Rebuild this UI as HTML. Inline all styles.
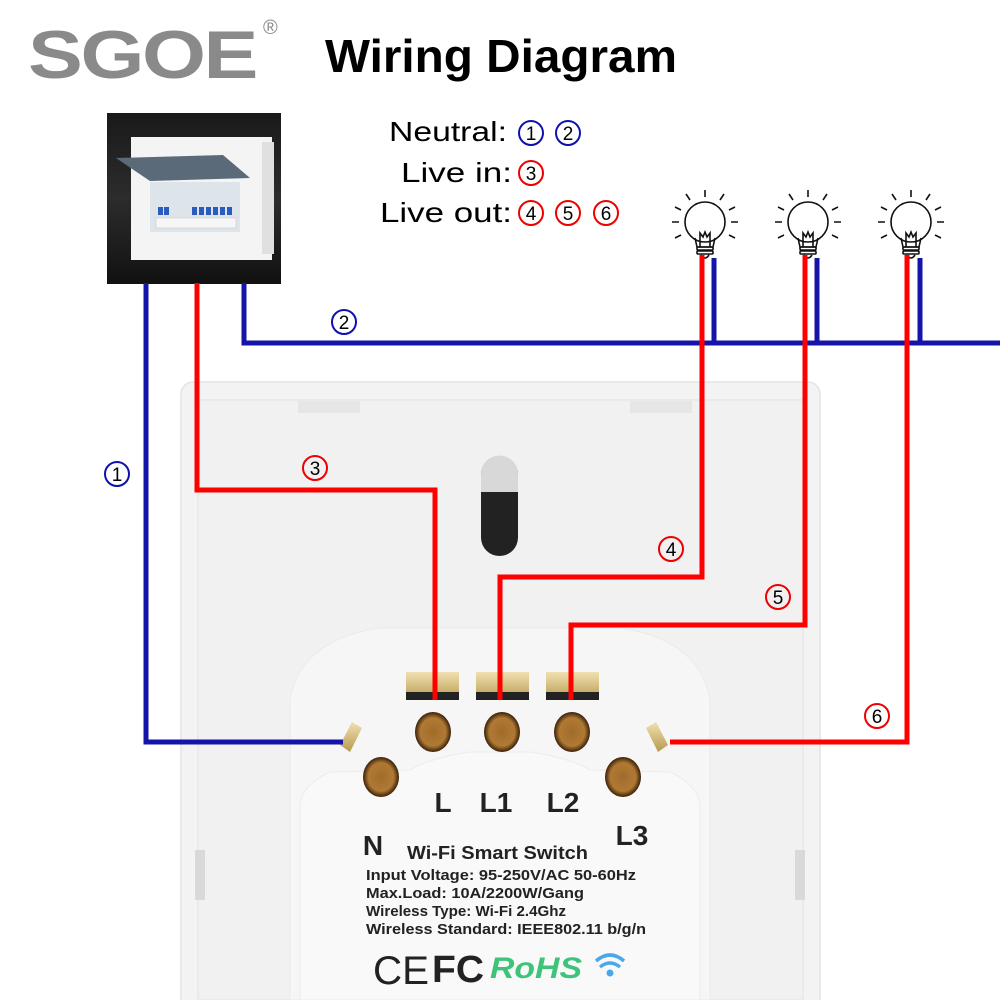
<!DOCTYPE html>
<html><head><meta charset="utf-8"><style>
html,body{margin:0;padding:0;background:#fff;}
svg{display:block;}
text{font-family:"Liberation Sans",Arial,sans-serif;}
</style></head><body>
<svg width="1000" height="1000" viewBox="0 0 1000 1000" xmlns="http://www.w3.org/2000/svg">
<defs>
<radialGradient id="hole" cx="50%" cy="50%" r="50%">
<stop offset="0" stop-color="#a06a2a"/><stop offset="0.7" stop-color="#b07a35"/><stop offset="1" stop-color="#3a2008"/>
</radialGradient>
<linearGradient id="scr" x1="0" y1="0" x2="0" y2="1"><stop offset="0" stop-color="#f0e0b0"/><stop offset="1" stop-color="#b89a50"/></linearGradient>
<linearGradient id="bx" x1="0" y1="0" x2="0" y2="1"><stop offset="0" stop-color="#1a1a1a"/><stop offset="0.5" stop-color="#2c2c2c"/><stop offset="1" stop-color="#111"/></linearGradient>
</defs>
<!-- header -->
<text x="28" y="78" font-size="68" font-weight="bold" fill="#8a8a8a" letter-spacing="-2" textLength="228" lengthAdjust="spacingAndGlyphs">SGOE</text>
<text x="263" y="34" font-size="20" fill="#8a8a8a">®</text>
<text x="325" y="72" font-size="46" font-weight="bold" fill="#000" textLength="352" lengthAdjust="spacingAndGlyphs">Wiring Diagram</text>
<!-- legend -->
<g font-size="28" fill="#000">
<text x="389" y="141" textLength="118" lengthAdjust="spacingAndGlyphs">Neutral:</text>
<text x="401" y="182" textLength="111" lengthAdjust="spacingAndGlyphs">Live in:</text>
<text x="380" y="222" textLength="132" lengthAdjust="spacingAndGlyphs">Live out:</text>
</g>
<g font-size="19" text-anchor="middle" fill="#000">
<circle cx="531" cy="133" r="12" fill="none" stroke="#1010b0" stroke-width="2"/><text x="531" y="140">1</text>
<circle cx="568" cy="133" r="12" fill="none" stroke="#1010b0" stroke-width="2"/><text x="568" y="140">2</text>
<circle cx="531" cy="173" r="12" fill="none" stroke="#e00" stroke-width="2"/><text x="531" y="180">3</text>
<circle cx="531" cy="213" r="12" fill="none" stroke="#e00" stroke-width="2"/><text x="531" y="220">4</text>
<circle cx="568" cy="213" r="12" fill="none" stroke="#e00" stroke-width="2"/><text x="568" y="220">5</text>
<circle cx="606" cy="213" r="12" fill="none" stroke="#e00" stroke-width="2"/><text x="606" y="220">6</text>
</g>
<!-- breaker box -->
<rect x="107" y="113" width="174" height="171" fill="url(#bx)"/>
<rect x="131" y="137" width="141" height="123" fill="#f4f4f4"/>
<rect x="262" y="142" width="12" height="112" fill="#e0e0e0"/>
<polygon points="116,158 223,155 250,178 150,181" fill="#5a6a78"/>
<rect x="150" y="182" width="90" height="50" fill="#dde4ea"/>
<g fill="#2a5bbf">
<rect x="158" y="207" width="5" height="8"/><rect x="164" y="207" width="5" height="8"/>
<rect x="192" y="207" width="5" height="8"/><rect x="199" y="207" width="5" height="8"/><rect x="206" y="207" width="5" height="8"/><rect x="213" y="207" width="5" height="8"/><rect x="220" y="207" width="5" height="8"/><rect x="227" y="207" width="5" height="8"/>
</g>
<rect x="156" y="218" width="80" height="10" fill="#f6f6f6" stroke="#ccc" stroke-width="0.6"/>
<!-- bulbs -->
<g fill="none" stroke="#111" stroke-width="1.6">
<g id="b1" transform="translate(705,0)">
<circle cx="0" cy="222" r="20"/>
<path d="M-10,238 L-8,247 L8,247 L10,238"/>
<path d="M-5,247 L-5,233 L-2,237 L0,232 L2,237 L5,233 L5,247"/>
<rect x="-8" y="247" width="16" height="3" rx="1"/><rect x="-8" y="251" width="16" height="3" rx="1"/>
<path d="M-4,255 Q0,261 4,255"/>
<path d="M0,190 L0,197 M-19,194 L-15,200 M19,194 L15,200 M-30,207 L-24,210 M30,207 L24,210 M-33,222 L-26,222 M33,222 L26,222 M-30,238 L-24,235 M30,238 L24,235"/>
</g>
<use href="#b1" transform="translate(103,0)"/>
<use href="#b1" transform="translate(206,0)"/>
</g>
<!-- switch plate -->
<rect x="181" y="382" width="639" height="640" rx="12" fill="#f3f3f3" stroke="#e4e4e4" stroke-width="1.5"/>
<rect x="198" y="400" width="605" height="600" fill="#f1f1f1" stroke="#e2e2e2" stroke-width="1"/>
<rect x="298" y="401" width="62" height="12" fill="#e6e6e6"/>
<rect x="630" y="401" width="62" height="12" fill="#e6e6e6"/>
<rect x="195" y="850" width="10" height="50" fill="#d9d9d9"/>
<rect x="795" y="850" width="10" height="50" fill="#d9d9d9"/>
<rect x="481" y="456" width="37" height="100" rx="18.5" fill="#222"/>
<path d="M481,492 L481,474 A18.5,18.5 0 0 1 518,474 L518,492 Z" fill="#d8d8d8"/>
<!-- module -->
<path d="M290,1000 L290,700 Q300,640 380,628 L620,628 Q700,640 710,700 L710,1000 Z" fill="#f6f6f6" stroke="#ebebeb"/>
<path d="M300,1000 L300,805 Q302,785 330,772 L410,770 Q430,758 470,752 L530,752 Q570,758 590,770 L670,772 Q698,785 700,805 L700,1000 Z" fill="#f9f9f9" stroke="#ececec"/>
<!-- terminals -->
<g>
<rect x="406" y="672" width="53" height="28" fill="url(#scr)"/><rect x="406" y="692" width="53" height="8" fill="#222"/>
<rect x="476" y="672" width="53" height="28" fill="url(#scr)"/><rect x="476" y="692" width="53" height="8" fill="#222"/>
<rect x="546" y="672" width="53" height="28" fill="url(#scr)"/><rect x="546" y="692" width="53" height="8" fill="#222"/>
<ellipse cx="433" cy="732" rx="18" ry="20" fill="url(#hole)"/>
<ellipse cx="502" cy="732" rx="18" ry="20" fill="url(#hole)"/>
<ellipse cx="572" cy="732" rx="18" ry="20" fill="url(#hole)"/>
<ellipse cx="381" cy="777" rx="18" ry="20" fill="url(#hole)"/>
<ellipse cx="623" cy="777" rx="18" ry="20" fill="url(#hole)"/>
<polygon points="340,745 352,722 362,728 350,752" fill="url(#scr)"/>
<polygon points="646,728 656,722 668,745 658,752" fill="url(#scr)"/>
</g>
<g font-weight="bold" fill="#222">
<text x="443" y="812" font-size="28" text-anchor="middle">L</text>
<text x="496" y="812" font-size="28" text-anchor="middle">L1</text>
<text x="563" y="812" font-size="28" text-anchor="middle">L2</text>
<text x="373" y="855" font-size="28" text-anchor="middle">N</text>
<text x="632" y="845" font-size="28" text-anchor="middle">L3</text>
<text x="407" y="859" font-size="18" textLength="181" lengthAdjust="spacingAndGlyphs">Wi-Fi Smart Switch</text>
</g>
<g font-size="15" fill="#222" font-weight="bold">
<text x="366" y="880" textLength="270" lengthAdjust="spacingAndGlyphs">Input Voltage: 95-250V/AC 50-60Hz</text>
<text x="366" y="898" textLength="218" lengthAdjust="spacingAndGlyphs">Max.Load: 10A/2200W/Gang</text>
<text x="366" y="916" textLength="200" lengthAdjust="spacingAndGlyphs">Wireless Type: Wi-Fi 2.4Ghz</text>
<text x="366" y="934" textLength="280" lengthAdjust="spacingAndGlyphs">Wireless Standard: IEEE802.11 b/g/n</text>
</g>
<text x="373" y="984" font-size="40" fill="#222" textLength="56" lengthAdjust="spacingAndGlyphs">CE</text>
<text x="432" y="982" font-size="38" font-weight="bold" fill="#222" textLength="52" lengthAdjust="spacingAndGlyphs">FC</text>
<text x="490" y="978" font-size="30" font-weight="bold" font-style="italic" fill="#3ec47a" textLength="92" lengthAdjust="spacingAndGlyphs">RoHS</text>
<g fill="none" stroke="#4aa8e8" stroke-width="3.5">
<path d="M596,961 Q610,949 624,961"/><path d="M600,967 Q610,959 620,967"/>
</g>
<circle cx="610" cy="973" r="3.5" fill="#4aa8e8"/>
<!-- wires -->
<g fill="none" stroke-width="5" stroke-linejoin="miter" stroke-linecap="butt">
<polyline points="146,283 146,742 343,742" stroke="#1414a8"/>
<polyline points="244,283 244,343 1000,343" stroke="#1414a8"/>
<polyline points="714,258 714,343" stroke="#1414a8"/>
<polyline points="817,258 817,343" stroke="#1414a8"/>
<polyline points="920,258 920,343" stroke="#1414a8"/>
<polyline points="197,283 197,490 435,490 435,700" stroke="#f00"/>
<polyline points="702,255 702,577 500,577 500,700" stroke="#f00"/>
<polyline points="805,255 805,625 571,625 571,700" stroke="#f00"/>
<polyline points="907,255 907,742 670,742" stroke="#f00"/>
</g>
<!-- wire labels -->
<g font-size="19" text-anchor="middle" fill="#000">
<circle cx="117" cy="474" r="12" fill="#fff" stroke="#1010b0" stroke-width="2"/><text x="117" y="481">1</text>
<circle cx="344" cy="322" r="12" fill="#fff" stroke="#1010b0" stroke-width="2"/><text x="344" y="329">2</text>
<circle cx="315" cy="468" r="12" fill="none" stroke="#e00" stroke-width="2"/><text x="315" y="475">3</text>
<circle cx="671" cy="549" r="12" fill="none" stroke="#e00" stroke-width="2"/><text x="671" y="556">4</text>
<circle cx="778" cy="597" r="12" fill="none" stroke="#e00" stroke-width="2"/><text x="778" y="604">5</text>
<circle cx="877" cy="716" r="12" fill="none" stroke="#e00" stroke-width="2"/><text x="877" y="723">6</text>
</g>
</svg>
</body></html>
